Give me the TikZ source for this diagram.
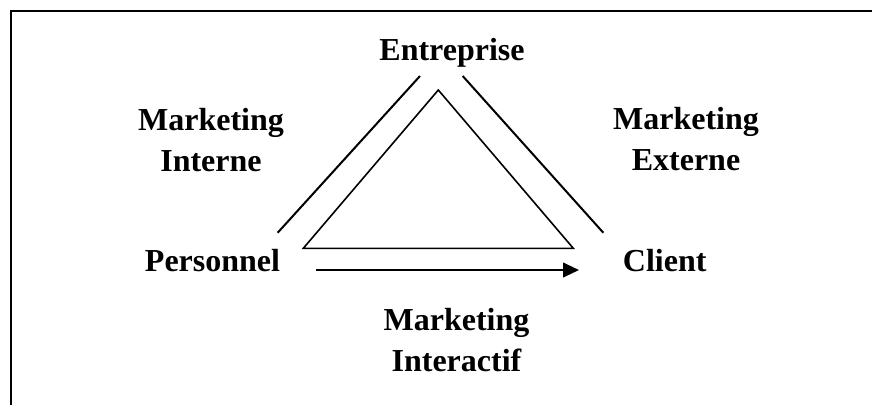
\documentclass[tikz,border=0pt]{standalone}
\usepackage{fontspec}
\setmainfont{Liberation Serif}
\usetikzlibrary{arrows.meta}

\tikzstyle{edge}=[black, line width=1.5pt, draw]
\tikzstyle{thin edge}=[black, line width=1.2pt, draw]
\tikzstyle{arr}=[black, line width=1.5pt, draw, -{Triangle[length=12pt, width=11pt]}]
\tikzstyle{lbl}=[font=\fontsize{24}{31}\selectfont\bfseries, align=center, anchor=base, inner sep=0pt]

\begin{document}
\begin{tikzpicture}[x=0.75pt, y=-0.75pt]
  \useasboundingbox (0,0) rectangle (872,405);
  \draw [black, line width=2pt] (872,11) -- (11,11) -- (11,405);

  \node [lbl] (ent) at (452,60.7) {Entreprise};
  \node [lbl] (pers) at (212.5,271.7) {Personnel};
  \node [lbl] (cli) at (664.7,271.7) {Client};
  \node [lbl] (mint) at (211,171.7) {Marketing\\Interne};
  \node [lbl] (mext) at (686,170.5) {Marketing\\Externe};
  \node [lbl] (minter) at (456.5,371.7) {Marketing\\Interactif};

  \coordinate (pers-up) at (277.7,232.7);
  \coordinate (ent-left) at (420,76);
  \coordinate (ent-right) at (462.7,76);
  \coordinate (cli-up) at (603.3,232.7);
  \coordinate (pers-out) at (316,270);
  \coordinate (cli-in) at (579,270);

  \draw [edge] (pers-up) -- (ent-left);
  \draw [edge] (ent-right) -- (cli-up);
  \draw [thin edge] (438.3,90) -- (573.3,248.3) -- (303.3,248.3) -- cycle;
  \draw [arr] (pers-out) -- (cli-in);
\end{tikzpicture}
\end{document}
